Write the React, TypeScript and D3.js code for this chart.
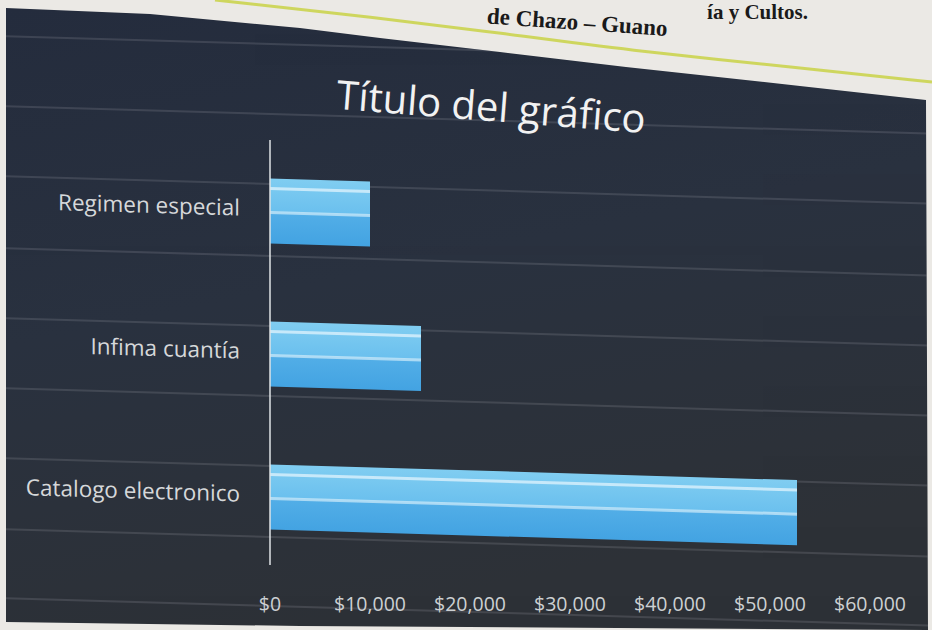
import React from 'react';
import * as d3 from 'd3';

// ---- data ----
const categories = ['Regimen especial', 'Infima cuantía', 'Catalogo electronico'];
const values = [10000, 15100, 52700];
const tickValues = [0, 10000, 20000, 30000, 40000, 50000, 60000];
const tickLabels = ['$0', '$10,000', '$20,000', '$30,000', '$40,000', '$50,000', '$60,000'];
const chartTitle = 'Título del gráfico';
const pageLine1 = 'ía y Cultos.';
const pageLine2 = 'de Chazo – Guano';

// decorative texture lines (y at the axis)
const textureLines = [44, 114, 184, 256, 326, 396, 466, 537, 606];
// dark chart region outline on the photographed page
const darkRegion: [number, number][] = [
  [6, 8], [150, 14], [300, 28], [380, 38], [500, 52], [626, 67], [800, 86], [926, 100],
  [928, 630], [300, 626], [6, 622],
];
const highlighter: [number, number][] = [[215, 0], [380, 18], [500, 33], [626, 50], [800, 68], [932, 82]];

const W = 932;
const H = 630;
const AX = 270;

export default function App() {
  const x = d3.scaleLinear().domain([0, 60000]).range([AX, 870]);
  const y = d3
    .scaleBand<string>()
    .domain(categories)
    .range([139.5, 568.5])
    .paddingInner(0.545)
    .paddingOuter(0.2725);
  const bw = y.bandwidth();
  const poly = d3.line()(darkRegion) + 'Z';
  const hl = d3.line().curve(d3.curveBasis)(highlighter) || '';
  const skew = `translate(${AX},0) skewY(1.7) translate(${-AX},0)`;
  const font = '"Open Sans", Lato, sans-serif';
  const serif = '"Liberation Serif", "DejaVu Serif", serif';

  return (
    <svg width={W} height={H} style={{ position: 'absolute', left: 0, top: 0 }}>
      <defs>
        <linearGradient id="bg" x1="0" y1="0" x2="0.3" y2="1">
          <stop offset="0" stopColor="#242c3d" />
          <stop offset="0.5" stopColor="#29313f" />
          <stop offset="1" stopColor="#2d3137" />
        </linearGradient>
        <linearGradient id="bar" x1="0" y1="0" x2="0" y2="1">
          <stop offset="0" stopColor="#80cdf1" />
          <stop offset="0.5" stopColor="#6bc0ee" />
          <stop offset="0.53" stopColor="#52aee7" />
          <stop offset="1" stopColor="#43a3e2" />
        </linearGradient>
        <clipPath id="clipDark">
          <path d={poly} />
        </clipPath>
      </defs>
      <rect width={W} height={H} fill="#ebe9e5" />
      <path d={hl} fill="none" stroke="#c9d246" strokeWidth={3} opacity={0.85} />
      <text
        x={808}
        y={19}
        textAnchor="end"
        fontFamily={serif}
        fontWeight="bold"
        fontSize={21}
        fill="#1a1a1a"
      >
        {pageLine1}
      </text>
      <text
        x={667}
        y={36}
        textAnchor="end"
        transform="rotate(4,667,36)"
        fontFamily={serif}
        fontWeight="bold"
        fontSize={23}
        fill="#1a1a1a"
      >
        {pageLine2}
      </text>
      <path d={poly} fill="url(#bg)" />
      <g clipPath="url(#clipDark)">
        <g transform={skew}>
          {textureLines.map((ly, i) => (
            <line key={i} x1={0} x2={W} y1={ly} y2={ly} stroke="#b8b8c0" strokeWidth={2} opacity={0.17} />
          ))}
        </g>
        <text
          x={490}
          y={121}
          textAnchor="middle"
          transform="rotate(4.5,490,121)"
          fontFamily={font}
          fontSize={40}
          fill="#f2f2f2"
        >
          {chartTitle}
        </text>
        <g transform={skew}>
          {categories.map((c, i) => {
            const by = y(c) as number;
            return (
              <g key={c}>
                <rect x={x(0)} y={by} width={x(values[i]) - x(0)} height={bw} fill="url(#bar)" />
                <rect x={x(0)} y={by + bw * 0.13} width={x(values[i]) - x(0)} height={3} fill="#e8f6fd" opacity={0.7} />
                <rect x={x(0)} y={by + bw * 0.5} width={x(values[i]) - x(0)} height={3} fill="#e8f6fd" opacity={0.6} />
                <text
                  x={240}
                  y={by + bw / 2 - 3}
                  textAnchor="end"
                  dominantBaseline="central"
                  fontFamily={font}
                  fontSize={22.5}
                  fill="#d6d8da"
                >
                  {c}
                </text>
              </g>
            );
          })}
          <line x1={AX} x2={AX} y1={140} y2={565} stroke="#dfe3e6" strokeWidth={1.5} />
        </g>
        {tickValues.map((t, i) => (
          <text
            key={t}
            x={x(t)}
            y={603}
            textAnchor="middle"
            dominantBaseline="central"
            fontFamily={font}
            fontSize={19.5}
            fill="#cdd0d3"
          >
            {tickLabels[i]}
          </text>
        ))}
      </g>
    </svg>
  );
}
